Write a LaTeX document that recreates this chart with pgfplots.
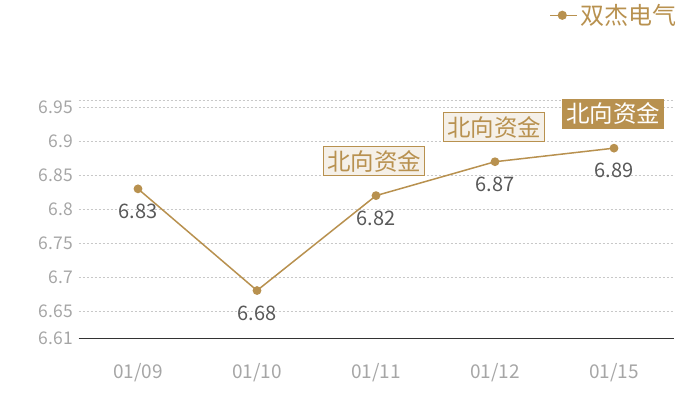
\documentclass[border=0pt]{standalone}
\usepackage{fontspec}
\setmainfont{Noto Sans CJK SC}
\usepackage{pgfplots}
\pgfplotsset{compat=1.18}
\definecolor{gold}{HTML}{B8914F}
\definecolor{boxfill}{HTML}{F5F0E8}
\definecolor{tickc}{HTML}{A6A6A6}
\definecolor{lab}{HTML}{595959}
\definecolor{gridc}{HTML}{C8C8C8}
\begin{document}
\begin{tikzpicture}
\useasboundingbox (0,0) rectangle (700pt,400pt);
\begin{axis}[
  at={(78.5pt,62pt)}, anchor=south west,
  scale only axis, width=595pt, height=237.3pt,
  xmin=-0.5, xmax=4.5, ymin=6.61, ymax=6.96,
  xtick={0,1,2,3,4}, xticklabels={01/09,01/10,01/11,01/12,01/15},
  ytick={6.61,6.65,6.7,6.75,6.8,6.85,6.9,6.95,6.96},
  yticklabels={6.61,6.65,6.7,6.75,6.8,6.85,6.9,6.95,{}},
  axis line style={draw=none}, major tick length=0pt,
  ymajorgrids, grid style={gridc, dash pattern=on 2pt off 2pt, line width=0.7pt},
  ticklabel style={text=tickc},
  /pgf/number format/assume math mode=true,
  xticklabel style={anchor=center, yshift=-35pt, font=\fontsize{19}{21}\selectfont},
  yticklabel style={anchor=east, xshift=-2pt, font=\fontsize{17.5}{19}\selectfont},
  legend style={draw=none, fill=none, at={(1.013,1.36)}, anchor=east,
    font=\fontsize{24}{26}\selectfont, text=gold},
  legend image code/.code={\path (0pt,0pt) -- (27pt,0pt); \draw[gold, line width=1.5pt] (0pt,0pt) -- (24pt,0pt); \fill[gold] (12pt,0pt) circle (3.8pt);},
  clip=false,
]
\draw[black!80, line width=0.8pt] (rel axis cs:0,0) -- (rel axis cs:1,0);
\addplot[gold, line width=1.5pt, mark=*, mark size=3.6pt, mark options={fill=gold, draw=gold},
  nodes near coords, point meta=explicit symbolic,
  every node near coord/.append style={anchor=center, yshift=-22.5pt, text=lab, font=\fontsize{20}{22}\selectfont}]
  coordinates {(0,6.83)[6.83] (1,6.68)[6.68] (2,6.82)[6.82] (3,6.87)[6.87] (4,6.89)[6.89]};
\addlegendentry{双杰电气}
\node[draw=gold, fill=boxfill, text=gold, font=\fontsize{23.5}{25}\selectfont, inner sep=3.5pt, line width=0.8pt] at ([xshift=-2pt,yshift=34.5pt]axis cs:2,6.82) {北向资金};
\node[draw=gold, fill=boxfill, text=gold, font=\fontsize{23.5}{25}\selectfont, inner sep=3.5pt, line width=0.8pt] at ([xshift=-1pt,yshift=34.5pt]axis cs:3,6.87) {北向资金};
\node[draw=gold, fill=gold, text=white, font=\fontsize{23.5}{25}\selectfont, inner sep=3.5pt, line width=0.8pt] at ([xshift=-1pt,yshift=34.5pt]axis cs:4,6.89) {北向资金};
\end{axis}
\end{tikzpicture}
\end{document}
